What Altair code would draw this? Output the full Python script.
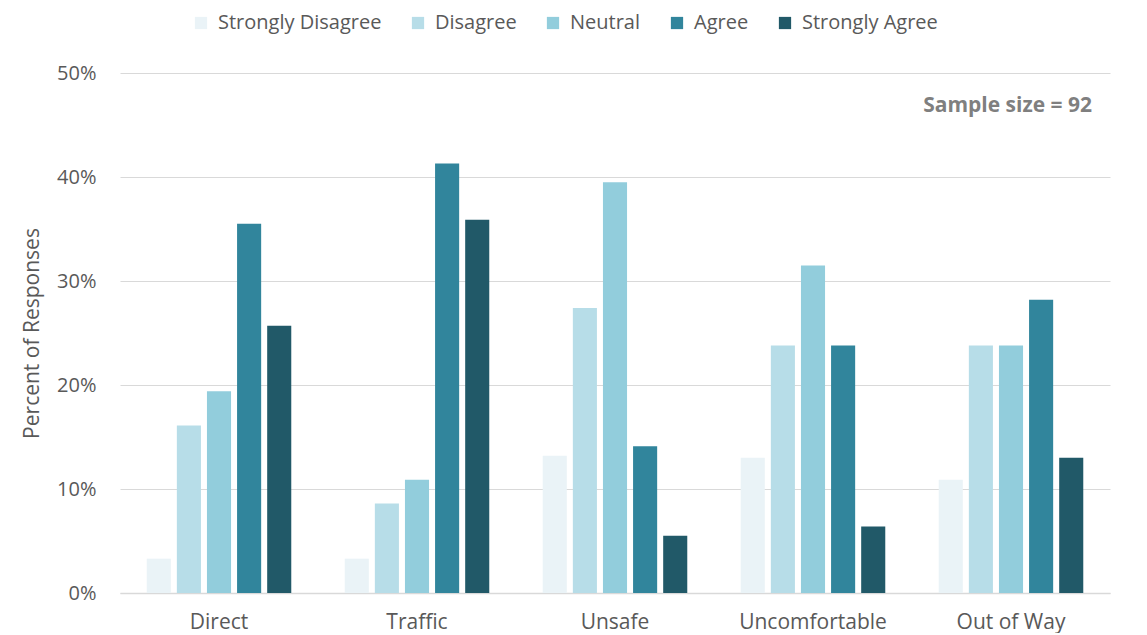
import altair as alt
import pandas as pd

categories = ["Direct", "Traffic", "Unsafe", "Uncomfortable", "Out of Way"]
responses = ["Strongly Disagree", "Disagree", "Neutral", "Agree", "Strongly Agree"]
colors = ["#EAF3F7", "#B7DDE8", "#92CDDC", "#31859C", "#215968"]

strongly_disagree = [3.3, 3.3, 13.2, 13.0, 10.9]
disagree = [16.1, 8.6, 27.4, 23.8, 23.8]
neutral = [19.4, 10.9, 39.5, 31.5, 23.8]
agree = [35.5, 41.3, 14.1, 23.8, 28.2]
strongly_agree = [25.7, 35.9, 5.5, 6.4, 13.0]

series = [strongly_disagree, disagree, neutral, agree, strongly_agree]
rows = []
for resp, vals in zip(responses, series):
    for cat, v in zip(categories, vals):
        rows.append({"Category": cat, "Response": resp, "Percent": v / 100})
df = pd.DataFrame(rows)

FONT = "Open Sans"
TXT = "#595959"

bars = alt.Chart(df).mark_bar().encode(
    x=alt.X("Category:N", sort=categories,
            scale=alt.Scale(paddingInner=0.27, paddingOuter=0.135),
            axis=alt.Axis(title=None, labelAngle=0, labelFontSize=21, labelColor=TXT,
                          labelFont=FONT, labelPadding=18, ticks=False,
                          domainColor="#D9D9D9", domainWidth=1.5)),
    xOffset=alt.XOffset("Response:N", sort=responses,
                        scale=alt.Scale(paddingInner=0.2, paddingOuter=0)),
    y=alt.Y("Percent:Q", scale=alt.Scale(domain=[0, 0.5]),
            axis=alt.Axis(format=".0%", values=[0, 0.1, 0.2, 0.3, 0.4, 0.5],
                          title="Percent of Responses", titleFontSize=21,
                          titleFont=FONT, titleColor=TXT, titleFontWeight="normal",
                          titlePadding=14, labelFontSize=20, labelColor=TXT,
                          labelFont=FONT, labelPadding=24, ticks=False, domain=False,
                          gridColor="#D9D9D9", gridWidth=1)),
    color=alt.Color("Response:N", sort=responses,
                    scale=alt.Scale(domain=responses, range=colors),
                    legend=alt.Legend(title=None, orient="none", direction="horizontal",
                                      legendX=71, legendY=-60, columns=5,
                                      symbolType="square", symbolSize=150,
                                      symbolStrokeWidth=0, labelFontSize=20,
                                      labelFont=FONT, labelColor=TXT, labelOffset=7,
                                      labelLimit=400, columnPadding=26, padding=0)),
)

note = alt.Chart(pd.DataFrame({"t": ["Sample size = 92"]})).mark_text(
    align="right", baseline="middle", font=FONT, fontSize=21, fontWeight="bold",
    color="#7F7F7F"
).encode(text="t:N", x=alt.value(972), y=alt.value(33))

chart = alt.layer(bars, note).properties(
    width=990, height=520,
    autosize=alt.AutoSizeParams(type="none"),
    padding={"left": 112, "top": 65, "right": 29, "bottom": 40},
).configure_view(stroke=None)

chart.save("out.html", embed_options={"renderer": "svg", "actions": False})
